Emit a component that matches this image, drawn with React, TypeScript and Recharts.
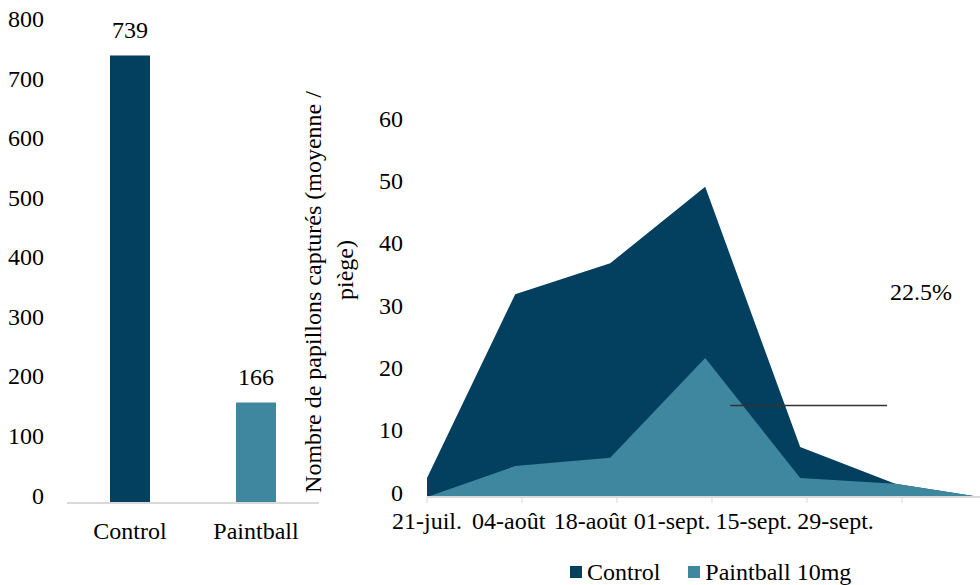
import {
  BarChart,
  Bar,
  Cell,
  LabelList,
  AreaChart,
  Area,
  XAxis,
  YAxis,
  ReferenceLine,
  ReferenceDot,
  Legend,
} from 'recharts'

// left panel: season totals
const barCategories = ['Control', 'Paintball']
const barTotals = [739, 166]
const barTicks = [0, 100, 200, 300, 400, 500, 600, 700, 800]

// right panel: mean catches per trap over the season
const seriesNames = ['Control', 'Paintball 10mg']
const sampleDays = [0, 13, 27, 41, 55, 69, 81.5]
const controlMeans = [3.0, 32.1, 37.0, 49.1, 7.9, 2.1, 0]
const paintballMeans = [0, 4.9, 6.2, 22.0, 3.0, 2.1, 0]
const dateTicks = [0, 14, 28, 42, 56, 70]
const dateLabels = ['21-juil.', '04-août', '18-août', '01-sept.', '15-sept.', '29-sept.']
const areaTicks = [0, 10, 20, 30, 40, 50, 60]

// annotation
const thresholdValue = 14.5
const thresholdFrom = 44.7
const thresholdTo = 67.8
const reductionText = '22.5%'
const reductionAt = { day: 72.8, value: 32.6 }

const DARK = '#03405f'
const TEAL = '#3f879f'
const SERIF = 'Liberation Serif'
const tickStyle = { fill: '#000', fontSize: 24, fontFamily: SERIF }

const barData = barCategories.map((name, i) => ({ name, total: barTotals[i] }))
const areaData = sampleDays.map((day, i) => ({
  day,
  control: controlMeans[i],
  paintball: paintballMeans[i],
}))

// Excel squeezed the date labels leftwards, each a bit more than the last
const labelDrift = 13.3

function DateTick(props: any) {
  const { x, y, payload, index } = props
  return (
    <text x={x - index * labelDrift} y={y} dy="0.71em" textAnchor="middle" fill="#000" fontSize={24} fontFamily={SERIF}>
      {dateLabels[dateTicks.indexOf(payload.value)]}
    </text>
  )
}

// value labels in the original sit a little high near zero
function ValueTick(props: any) {
  const { x, y, payload, max, sag } = props
  const shift = sag * (1 - payload.value / max)
  return (
    <text x={x} y={y - shift} dy="0.355em" textAnchor="end" fill="#000" fontSize={24} fontFamily={SERIF}>
      {payload.value}
    </text>
  )
}

function AxisTitle(props: any) {
  const vb = props.viewBox || { x: 0, y: 0, width: 0, height: 0 }
  const x1 = vb.x + 13
  const x2 = vb.x + 45
  return (
    <g fill="#000" fontSize={24} fontFamily={SERIF}>
      <text x={x1} y={292} textAnchor="middle" dominantBaseline="central" transform={`rotate(-90 ${x1} 292)`}>
        Nombre de papillons capturés (moyenne /
      </text>
      <text x={x2} y={270} textAnchor="middle" dominantBaseline="central" transform={`rotate(-90 ${x2} 270)`}>
        piège)
      </text>
    </g>
  )
}

function SeriesLegend() {
  const colors = [DARK, TEAL]
  return (
    <div style={{ display: 'flex', alignItems: 'center', fontSize: 24, color: '#000', lineHeight: '28px', fontFamily: SERIF }}>
      {seriesNames.map((n, i) => (
        <div key={n} style={{ display: 'flex', alignItems: 'center', marginRight: 28 }}>
          <span style={{ width: 12, height: 12, background: colors[i], marginRight: 5, display: 'inline-block' }} />
          <span>{n}</span>
        </div>
      ))}
    </div>
  )
}

export default function App() {
  return (
    <div style={{ position: 'absolute', left: 0, top: 0, width: 980, height: 585, background: '#fff', fontFamily: SERIF }}>
      <div style={{ position: 'absolute', left: 0, top: 0 }}>
        <BarChart width={330} height={585} data={barData} margin={{ top: 18.5, right: 11, left: 0, bottom: 52 }}>
          <YAxis
            width={67}
            domain={[0, 800]}
            ticks={barTicks}
            axisLine={false}
            tickLine={false}
            tickMargin={17}
            tick={<ValueTick max={800} sag={8} />}
          />
          <XAxis
            dataKey="name"
            axisLine={{ stroke: '#d9d9d9', strokeWidth: 2 }}
            tickLine={false}
            tickMargin={13}
            tick={tickStyle}
          />
          <Bar dataKey="total" barSize={40} isAnimationActive={false}>
            {barData.map((d, i) => (
              <Cell key={d.name} fill={i === 0 ? DARK : TEAL} />
            ))}
            <LabelList dataKey="total" position="top" offset={17} fill="#000" fontSize={24} fontFamily={SERIF} />
          </Bar>
        </BarChart>
      </div>

      <div style={{ position: 'absolute', left: 300, top: 0 }}>
        <AreaChart width={680} height={585} data={areaData} margin={{ top: 118, right: 0, left: 0, bottom: 58 }}>
          <YAxis
            width={127}
            domain={[0, 60]}
            ticks={areaTicks}
            axisLine={false}
            tickLine={false}
            tickMargin={18}
            tick={<ValueTick max={60} sag={5} />}
            label={{ content: AxisTitle }}
          />
          <XAxis
            dataKey="day"
            type="number"
            domain={[0, 81.5]}
            ticks={dateTicks}
            axisLine={{ stroke: '#d9d9d9', strokeWidth: 2 }}
            tickLine={{ stroke: '#d9d9d9' }}
            tickSize={6}
            tickMargin={9}
            tick={<DateTick />}
            interval={0}
          />
          <Area
            type="linear"
            dataKey="control"
            name={seriesNames[0]}
            stroke="none"
            fill={DARK}
            fillOpacity={1}
            isAnimationActive={false}
          />
          <Area
            type="linear"
            dataKey="paintball"
            name={seriesNames[1]}
            stroke="none"
            fill={TEAL}
            fillOpacity={1}
            isAnimationActive={false}
          />
          <ReferenceLine
            segment={[
              { x: thresholdFrom, y: thresholdValue },
              { x: thresholdTo, y: thresholdValue },
            ]}
            stroke="#333"
            strokeWidth={1.5}
          />
          <ReferenceDot
            x={reductionAt.day}
            y={reductionAt.value}
            r={0}
            fill="none"
            stroke="none"
            label={{ value: reductionText, position: 'center', fill: '#000', fontSize: 24, fontFamily: SERIF }}
          />
          <Legend
            verticalAlign="middle"
            wrapperStyle={{ top: 558, left: 270, width: 400 }}
            content={<SeriesLegend />}
          />
        </AreaChart>
      </div>
    </div>
  )
}
